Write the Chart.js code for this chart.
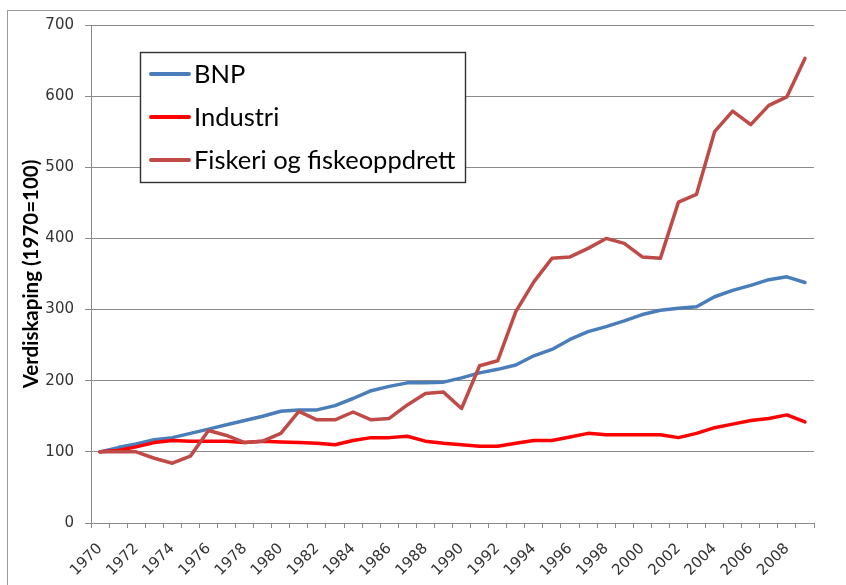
<!DOCTYPE html>
<html>
<head>
<meta charset="utf-8">
<script src="https://cdn.jsdelivr.net/npm/chart.js@4/dist/chart.umd.min.js"></script>
<style>
  html, body { margin: 0; padding: 0; background: #ffffff; }
  #wrap { position: relative; width: 846px; height: 585px; }
</style>
</head>
<body>
<div id="wrap"><canvas id="c" width="846" height="585"></canvas></div>
<script>
const years = [1970, 1971, 1972, 1973, 1974, 1975, 1976, 1977, 1978, 1979,
               1980, 1981, 1982, 1983, 1984, 1985, 1986, 1987, 1988, 1989,
               1990, 1991, 1992, 1993, 1994, 1995, 1996, 1997, 1998, 1999,
               2000, 2001, 2002, 2003, 2004, 2005, 2006, 2007, 2008, 2009];

const bnp = [100, 106, 111, 117, 120, 126, 132, 138, 144, 150,
             157, 159, 159, 165, 175, 186, 192, 197, 197, 198,
             204, 211, 216, 222, 235, 244, 258, 269, 276, 284,
             293, 299, 302, 304, 318, 327, 334, 342, 346, 338];

const industri = [100, 102, 107, 113, 116, 115, 115, 115, 113, 115,
                  114, 113, 112, 110, 116, 120, 120, 122, 115, 112,
                  110, 108, 108, 112, 116, 116, 121, 126, 124, 124,
                  124, 124, 120, 126, 134, 139, 144, 147, 152, 142];

const fiskeri = [100, 100, 100, 91, 84, 94, 130, 123, 113, 115,
                 126, 157, 145, 145, 156, 145, 147, 166, 182, 184,
                 161, 221, 228, 297, 339, 372, 374, 386, 400, 393,
                 374, 372, 451, 462, 550, 579, 560, 587, 599, 653];

const yTicks = [0, 100, 200, 300, 400, 500, 600, 700];
const seriesNames = ['BNP', 'Industri', 'Fiskeri og fiskeoppdrett'];
const yTitle = 'Verdiskaping (1970=100)';

const GRID = '#8a8a8a';

const framePlugin = {
  id: 'frame',
  beforeDraw(chart) {
    const ctx = chart.ctx;
    ctx.save();
    ctx.fillStyle = '#ffffff';
    ctx.fillRect(0, 0, chart.width, chart.height);
    ctx.strokeStyle = '#9a9a9a';
    ctx.lineWidth = 1;
    ctx.strokeRect(7.5, 10.5, 900, 700);
    ctx.restore();
  }
};

const boxLegend = {
  id: 'boxLegend',
  afterDraw(chart) {
    const ctx = chart.ctx;
    const ds = chart.data.datasets;
    ctx.save();
    ctx.strokeStyle = '#303030';
    ctx.lineWidth = 1.4;
    ctx.fillStyle = '#ffffff';
    ctx.fillRect(140.5, 52.5, 325, 130);
    ctx.strokeRect(140.5, 52.5, 325, 130);
    ctx.font = '25.5px Lato';
    ctx.textBaseline = 'alphabetic';
    ctx.textAlign = 'left';
    ds.forEach((d, i) => {
      const yMid = 74 + i * 43;
      ctx.strokeStyle = d.borderColor;
      ctx.lineWidth = 4;
      ctx.lineCap = 'round';
      ctx.beginPath();
      ctx.moveTo(151, yMid);
      ctx.lineTo(189, yMid);
      ctx.stroke();
      ctx.fillStyle = '#000000';
      ctx.fillText(d.label, 194, yMid + 8.5);
    });
    ctx.restore();
  }
};

new Chart(document.getElementById('c'), {
  type: 'line',
  data: {
    labels: years,
    datasets: [
      { label: seriesNames[0], data: bnp, borderColor: '#4a7ebb', borderWidth: 3.5, order: 3 },
      { label: seriesNames[1], data: industri, borderColor: '#ff0000', borderWidth: 3.5, order: 2 },
      { label: seriesNames[2], data: fiskeri, borderColor: '#be4b48', borderWidth: 3.5, order: 1 }
    ]
  },
  options: {
    responsive: false,
    animation: false,
    devicePixelRatio: 1,
    layout: { padding: { left: 0, right: 32, top: 25, bottom: 0 } },
    elements: {
      point: { radius: 0, hoverRadius: 0 },
      line: { tension: 0, borderJoinStyle: 'round', borderCapStyle: 'round', fill: false }
    },
    plugins: {
      legend: { display: false },
      tooltip: { enabled: false }
    },
    scales: {
      x: {
        type: 'category',
        offset: true,
        grid: { display: true, drawOnChartArea: false, drawTicks: true, tickLength: 5, color: GRID, offset: true },
        border: { display: true, color: GRID, width: 1 },
        ticks: {
          autoSkip: false,
          maxRotation: 45,
          minRotation: 45,
          padding: 12,
          color: '#333333',
          font: { family: 'DejaVu Sans', size: 15 },
          callback: function (v, i) { return i % 2 === 0 ? String(years[i]) : ''; }
        },
        afterFit: function (s) { s.height = 62; }
      },
      y: {
        min: 0,
        max: 700,
        afterBuildTicks: function (s) { s.ticks = yTicks.map(v => ({ value: v })); },
        grid: { color: GRID, lineWidth: 1, tickLength: 6, drawTicks: true },
        border: { display: true, color: GRID, width: 1 },
        ticks: {
          padding: 11,
          color: '#333333',
          font: { family: 'DejaVu Sans', size: 15 }
        },
        title: {
          display: true,
          text: yTitle,
          color: '#000000',
          font: { family: 'Lato', size: 20.5, weight: 'bold' },
          padding: { top: 19, bottom: 0 }
        },
        afterFit: function (s) { s.width = 91; }
      }
    }
  },
  plugins: [framePlugin, boxLegend]
});
</script>
</body>
</html>
